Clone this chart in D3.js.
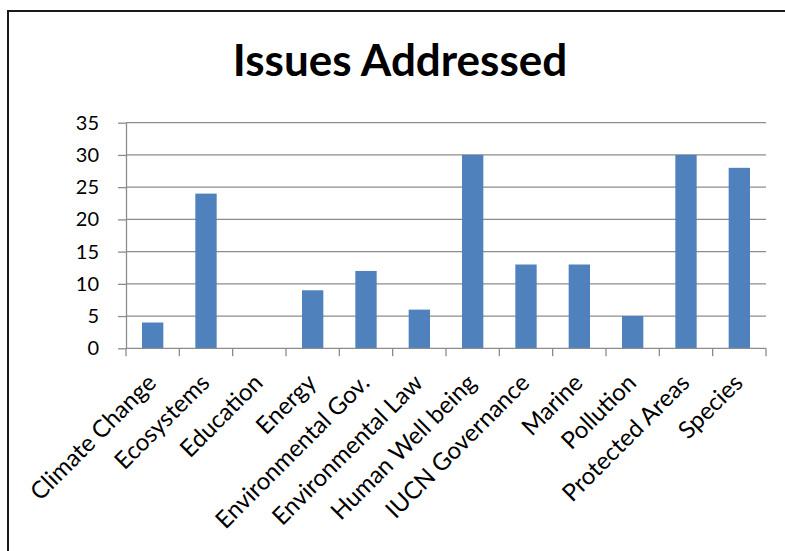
<!DOCTYPE html>
<html>
<head>
<meta charset="utf-8">
<script src="https://cdn.jsdelivr.net/npm/d3@7"></script>
<style>
  html, body { margin: 0; padding: 0; background: #fff; overflow: hidden; }
  svg { display: block; }
</style>
</head>
<body>
<script>
const categories = ["Climate Change","Ecosystems","Education","Energy","Environmental Gov.","Environmental Law","Human Well being","IUCN Governance","Marine","Pollution","Protected Areas","Species"];
const values = [4,24,0,9,12,6,30,13,13,5,30,28];
const yTickValues = [0,5,10,15,20,25,30,35];
const title = "Issues Addressed";

const W = 785, H = 551;
const svg = d3.select("body").append("svg").attr("width", W).attr("height", H);
svg.append("rect").attr("width", W).attr("height", H).attr("fill", "#fff");

// outer chart border (top and left edges visible; the rest lies off-canvas)
const border = svg.append("g").attr("stroke", "#1a1a1a").attr("stroke-width", 2);
border.append("line").attr("x1", 8).attr("x2", W + 10).attr("y1", 11).attr("y2", 11);
border.append("line").attr("x1", 8).attr("x2", 8).attr("y1", 10).attr("y2", H + 10);

const plot = { left: 126, right: 766, top: 122.7, bottom: 348.3 };
const x = d3.scaleBand().domain(categories).range([plot.left, plot.right]).paddingInner(0).paddingOuter(0);
const y = d3.scaleLinear().domain([0, 35]).range([plot.bottom, plot.top]);
const gridColor = "#8c8c8c";
const font = "Lato, 'Open Sans', sans-serif";

// gridlines
svg.append("g").selectAll("line").data(yTickValues.filter(d => d > 0)).join("line")
  .attr("x1", plot.left).attr("x2", plot.right)
  .attr("y1", d => y(d)).attr("y2", d => y(d))
  .attr("stroke", gridColor).attr("stroke-width", 1.3);

// y axis
const yAxis = d3.axisLeft(y).tickValues(yTickValues).tickSize(8).tickPadding(19).tickSizeOuter(0);
const gy = svg.append("g").attr("transform", `translate(${plot.left},0)`).call(yAxis);
gy.select(".domain").attr("stroke", gridColor).attr("stroke-width", 1.3);
gy.selectAll(".tick line").attr("stroke", gridColor).attr("stroke-width", 1.3);
gy.selectAll(".tick text").attr("font-family", font).attr("font-size", 20).attr("fill", "#000");

// bars
const barW = x.bandwidth() * 0.4;
svg.append("g").selectAll("rect").data(values).join("rect")
  .attr("x", (d, i) => x(categories[i]) + x.bandwidth() / 2 - barW / 2)
  .attr("width", barW)
  .attr("y", d => y(d))
  .attr("height", d => y(0) - y(d))
  .attr("fill", "#4f81bd");

// x axis line + ticks at band boundaries
const gx = svg.append("g");
gx.append("line").attr("x1", plot.left).attr("x2", plot.right)
  .attr("y1", plot.bottom).attr("y2", plot.bottom)
  .attr("stroke", gridColor).attr("stroke-width", 1.3);
const bounds = categories.map(c => x(c)).concat([plot.right]);
gx.selectAll("line.t").data(bounds).join("line").attr("class", "t")
  .attr("x1", d => d).attr("x2", d => d)
  .attr("y1", plot.bottom).attr("y2", plot.bottom + 8)
  .attr("stroke", gridColor).attr("stroke-width", 1.3);

// category labels rotated -45
gx.selectAll("text").data(categories).join("text")
  .attr("transform", d => `translate(${x(d) + x.bandwidth() / 2 + 5},${plot.bottom + 36}) rotate(-45)`)
  .attr("text-anchor", "end")
  .attr("font-family", font).attr("font-size", 24).attr("fill", "#000")
  .text(d => d);

// title
svg.append("text").attr("x", 400).attr("y", 76)
  .attr("text-anchor", "middle").attr("font-family", font)
  .attr("font-weight", "bold").attr("font-size", 44).attr("fill", "#000")
  .text(title);
</script>
</body>
</html>
